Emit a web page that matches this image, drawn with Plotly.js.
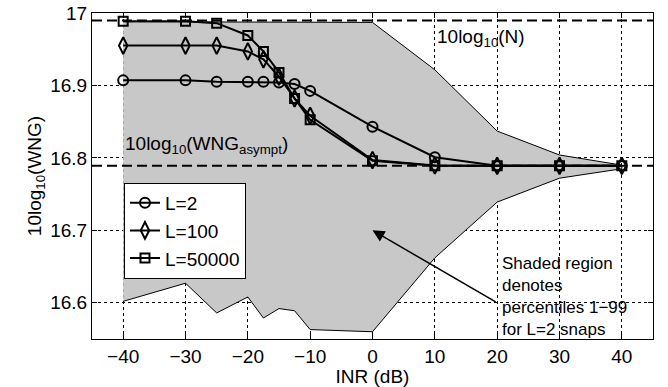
<!DOCTYPE html>
<html>
<head>
<meta charset="utf-8">
<script src="https://cdn.plot.ly/plotly-3.0.1.min.js"></script>
<style>html,body{margin:0;padding:0;background:#fff;}#chart{width:668px;height:387px;}</style>
</head>
<body>
<div id="chart"></div>
<script>
// INR values (dB) for each snapshot series
const inr = [-40, -30, -25, -20, -17.5, -15, -12.5, -10, 0, 10, 20, 30, 40];
const wngL2 = [16.907, 16.907, 16.905, 16.905, 16.905, 16.904, 16.902, 16.8925, 16.843, 16.801, 16.789, 16.789, 16.789];
const wngL100 = [16.955, 16.955, 16.955, 16.947, 16.936, 16.912, 16.882, 16.858, 16.797, 16.7895, 16.789, 16.789, 16.789];
const wngL50000 = [16.9885, 16.9885, 16.986, 16.969, 16.947, 16.918, 16.882, 16.8525, 16.796, 16.789, 16.789, 16.789, 16.789];

// Shaded band: percentiles 1-99 for L=2
const bandInr = [-40, -30, -25, -20, -17.5, -15, -12.5, -10, 0, 10, 20, 30, 40];
const bandUpper = [16.988, 16.988, 16.988, 16.988, 16.988, 16.988, 16.988, 16.988, 16.987, 16.9216, 16.837, 16.804, 16.790];
const bandLower = [16.602, 16.627, 16.586, 16.608, 16.579, 16.592, 16.589, 16.563, 16.560, 16.662, 16.739, 16.772, 16.785];

// Reference levels
const refLevels = [16.9897, 16.789];

const xTicks = [-40, -30, -20, -10, 0, 10, 20, 30, 40];
const yTicks = [16.6, 16.7, 16.8, 16.9, 17];
const yTickText = ['16.6', '16.7', '16.8', '16.9', '17'];

const seriesNames = ['L=2', 'L=100', 'L=50000'];

const FONT = 'Liberation Sans, Arial, Helvetica, sans-serif';

const bandX = bandInr.concat(bandInr.slice().reverse());
const bandY = bandUpper.concat(bandLower.slice().reverse());

const traces = [
  {
    x: bandX, y: bandY, type: 'scatter', mode: 'lines', fill: 'toself',
    fillcolor: 'rgb(200,200,200)', line: {color: 'black', width: 1},
    showlegend: false, hoverinfo: 'skip'
  },
  {
    x: inr, y: wngL2, type: 'scatter', mode: 'lines+markers', name: seriesNames[0],
    line: {color: 'black', width: 2},
    marker: {symbol: 'circle-open', size: 10, color: 'black', line: {width: 2, color: 'black'}}
  },
  {
    x: inr, y: wngL100, type: 'scatter', mode: 'lines+markers', name: seriesNames[1],
    line: {color: 'black', width: 2},
    marker: {symbol: 'diamond-tall-open', size: 12, color: 'black', line: {width: 2, color: 'black'}}
  },
  {
    x: inr, y: wngL50000, type: 'scatter', mode: 'lines+markers', name: seriesNames[2],
    line: {color: 'black', width: 2},
    marker: {symbol: 'square-open', size: 9, color: 'black', line: {width: 2, color: 'black'}}
  }
];

const shapes = refLevels.map(v => ({
  type: 'line', xref: 'paper', yref: 'y', x0: 0, x1: 1, y0: v, y1: v,
  line: {color: 'black', width: 2, dash: '10px,5px'}, layer: 'above'
}));

const noteText = 'Shaded region<br>denotes<br>percentiles 1\u221299<br>for L=2 snaps';

const annotations = [
  {x: 10, y: 16.966, xref: 'x', yref: 'y', text: '10log<sub>10</sub>(N)', showarrow: false,
   xanchor: 'left', yanchor: 'middle', font: {family: FONT, size: 19, color: 'black'}},
  {x: -40, y: 16.818, xref: 'x', yref: 'y', text: '10log<sub>10</sub>(WNG<sub>asympt</sub>)', showarrow: false,
   xanchor: 'left', yanchor: 'middle', font: {family: FONT, size: 19, color: 'black'}},
  {x: 0, y: 16.7, ax: 20, ay: 16.6, xref: 'x', yref: 'y', axref: 'x', ayref: 'y', text: '',
   showarrow: true, arrowhead: 2, arrowsize: 1.6, arrowwidth: 1.5, arrowcolor: 'black'},
  {x: 20.4, y: 16.609, xref: 'x', yref: 'y', text: noteText, showarrow: false, align: 'left',
   xanchor: 'left', yanchor: 'middle', font: {family: FONT, size: 17, color: 'black'}}
];

const layout = {
  width: 668, height: 387,
  margin: {l: 92, r: 15, t: 13, b: 48},
  paper_bgcolor: 'white', plot_bgcolor: 'white',
  font: {family: FONT, size: 19, color: 'black'},
  xaxis: {
    range: [-45, 45], tickvals: xTicks, ticks: 'inside', ticklen: 5, tickwidth: 1, tickcolor: 'black',
    showline: true, linecolor: 'black', linewidth: 1, mirror: 'ticks',
    showgrid: true, gridcolor: 'black', gridwidth: 1, griddash: 'dot', zeroline: false,
    title: {text: 'INR (dB)', font: {family: FONT, size: 19}},
    tickfont: {family: FONT, size: 19}
  },
  yaxis: {
    range: [16.55, 17], tickvals: yTicks, ticktext: yTickText, ticks: 'inside', ticklen: 5, tickwidth: 1, tickcolor: 'black',
    showline: true, linecolor: 'black', linewidth: 1, mirror: 'ticks',
    showgrid: true, gridcolor: 'black', gridwidth: 1, griddash: 'dot', zeroline: false,
    title: {text: '10log<sub>10</sub>(WNG)', font: {family: FONT, size: 19}},
    tickfont: {family: FONT, size: 19}
  },
  legend: {
    x: 0.057, y: 0.479, xanchor: 'left', yanchor: 'top',
    bgcolor: 'white', bordercolor: 'black', borderwidth: 1,
    font: {family: FONT, size: 19, color: 'black'}, tracegroupgap: 0
  },
  shapes: shapes,
  annotations: annotations,
  showlegend: true
};

Plotly.newPlot('chart', traces, layout, {displayModeBar: false, staticPlot: true});
</script>
</body>
</html>
